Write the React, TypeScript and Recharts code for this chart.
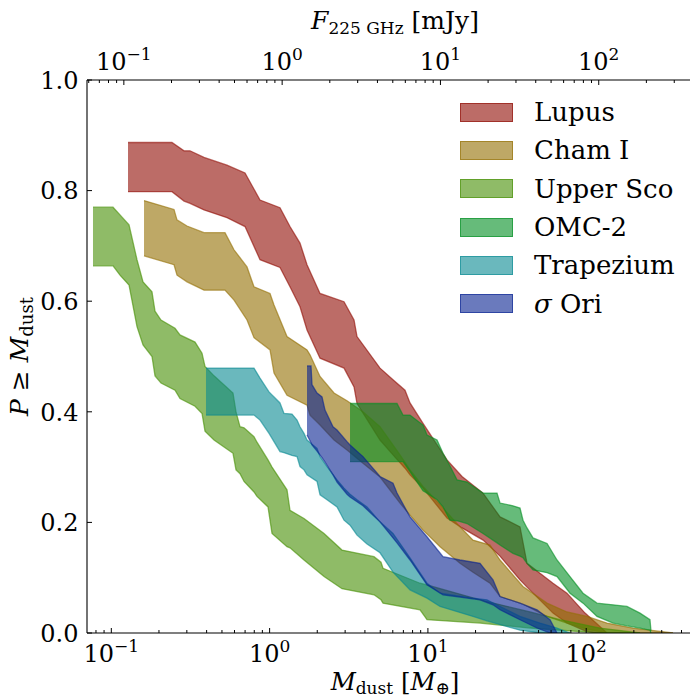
import React from 'react';
import { ComposedChart, Area, Line, XAxis, YAxis, Legend } from 'recharts';

const FONT = '"DejaVu Serif", serif';

// ---------------- data ----------------
const seriesNames = ['Lupus', 'Cham I', 'Upper Sco', 'OMC-2', 'Trapezium', 'σ Ori'];
const seriesColors = ['#8f0a02', '#936e00', '#448e02', '#008e21', '#078991', '#072191'];

const lupusM = [0.1275, 0.2416, 0.288, 0.3142, 0.3851, 0.5381, 0.6993, 0.8697, 1.163, 1.345, 1.556, 1.723, 2.082, 2.951, 3.414, 3.566, 4.982, 6.019, 7.167, 7.709, 9.314, 13.2, 16.43, 22.29, 28.55, 38.18, 42.27, 61.69, 75.6, 98.3, 113.6, 135.3];
const lupusHi = [0.887, 0.887, 0.872, 0.872, 0.86, 0.846, 0.832, 0.783, 0.769, 0.735, 0.705, 0.666, 0.614, 0.599, 0.566, 0.536, 0.479, 0.458, 0.439, 0.416, 0.379, 0.313, 0.283, 0.253, 0.21, 0.192, 0.126, 0.09, 0.072, 0.036, 0.02, 0];
const lupusLo = [0.798, 0.798, 0.781, 0.777, 0.765, 0.751, 0.735, 0.675, 0.661, 0.626, 0.59, 0.548, 0.497, 0.479, 0.445, 0.415, 0.349, 0.322, 0.298, 0.286, 0.262, 0.208, 0.19, 0.168, 0.139, 0.096, 0.083, 0.036, 0.018, 0.004, 0, 0];

const chamM = [0.1609, 0.2489, 0.26, 0.3007, 0.3851, 0.5226, 0.5957, 0.7198, 0.7966, 1.006, 1.066, 1.288, 1.723, 1.8, 2.082, 2.552, 3.083, 3.89, 4.982, 6.664, 7.709, 9.314, 11.93, 15.95, 19.27, 24.68, 28.55, 39.89, 56.56, 75.6, 101.2, 135.3, 197.6, 353.5];
const chamHi = [0.782, 0.766, 0.747, 0.736, 0.724, 0.724, 0.693, 0.662, 0.626, 0.614, 0.593, 0.536, 0.512, 0.503, 0.464, 0.434, 0.42, 0.4, 0.373, 0.322, 0.295, 0.265, 0.232, 0.192, 0.168, 0.159, 0.132, 0.084, 0.054, 0.038, 0.03, 0.018, 0.009, 0];
const chamLo = [0.682, 0.666, 0.647, 0.635, 0.62, 0.62, 0.602, 0.566, 0.534, 0.512, 0.47, 0.43, 0.412, 0.394, 0.376, 0.349, 0.331, 0.307, 0.282, 0.235, 0.213, 0.186, 0.156, 0.126, 0.11, 0.09, 0.066, 0.052, 0.03, 0.018, 0.007, 0, 0, 0];

const uscoM = [0.0766, 0.1025, 0.1135, 0.1294, 0.1453, 0.1586, 0.1807, 0.1888, 0.206, 0.2526, 0.2716, 0.3379, 0.3741, 0.3907, 0.4454, 0.5871, 0.6133, 0.6501, 0.6892, 0.7968, 0.8325, 0.977, 1.0356, 1.288, 1.345, 1.649, 2.207, 2.867, 4.566, 5.055, 5.205, 8.913, 9.87, 21.34, 44.16, 68.32, 122.2, 218.7];
const uscoHi = [0.77, 0.77, 0.756, 0.738, 0.675, 0.635, 0.617, 0.582, 0.566, 0.551, 0.539, 0.526, 0.506, 0.482, 0.465, 0.434, 0.4, 0.373, 0.371, 0.355, 0.345, 0.313, 0.3, 0.259, 0.222, 0.207, 0.18, 0.15, 0.138, 0.128, 0.117, 0.09, 0.087, 0.06, 0.038, 0.024, 0.009, 0];
const uscoLo = [0.664, 0.664, 0.647, 0.629, 0.554, 0.521, 0.5, 0.465, 0.452, 0.439, 0.424, 0.41, 0.397, 0.365, 0.349, 0.325, 0.295, 0.288, 0.274, 0.255, 0.247, 0.228, 0.18, 0.156, 0.154, 0.132, 0.102, 0.08, 0.069, 0.06, 0.054, 0.042, 0.024, 0.018, 0.009, 0.005, 0, 0];

const omcM = [3.221, 6.379, 6.961, 7.708, 9.314, 9.87, 11.42, 12.46, 13.79, 15.27, 17.66, 22.29, 27.33, 28.55, 34.48, 38.18, 39.89, 42.27, 46.13, 56.56, 65.4, 79.0, 95.5, 117.0, 147.7, 181.0, 218.7, 252.9, 256.6];
const omcHi = [0.415, 0.415, 0.394, 0.394, 0.376, 0.358, 0.349, 0.325, 0.302, 0.277, 0.273, 0.253, 0.253, 0.235, 0.23, 0.226, 0.204, 0.19, 0.172, 0.162, 0.132, 0.102, 0.072, 0.054, 0.051, 0.048, 0.036, 0.024, 0.004];
const omcLo = [0.31, 0.31, 0.31, 0.292, 0.257, 0.253, 0.241, 0.228, 0.204, 0.203, 0.198, 0.18, 0.163, 0.159, 0.144, 0.139, 0.136, 0.126, 0.114, 0.109, 0.102, 0.072, 0.054, 0.03, 0.018, 0.013, 0.009, 0.005, 0];

const trapM = [0.3964, 0.7968, 0.8697, 0.9913, 1.163, 1.233, 1.385, 1.49, 1.556, 1.649, 1.723, 1.993, 2.082, 2.305, 2.666, 2.951, 3.221, 3.566, 4.124, 4.982, 6.019, 7.708, 9.87, 11.93, 19.27, 23.62, 38.18, 51.07, 65.4, 79.0];
const trapHi = [0.479, 0.479, 0.461, 0.436, 0.416, 0.397, 0.396, 0.385, 0.373, 0.361, 0.349, 0.334, 0.319, 0.301, 0.277, 0.262, 0.251, 0.241, 0.228, 0.201, 0.18, 0.136, 0.09, 0.072, 0.063, 0.06, 0.03, 0.018, 0.009, 0];
const trapLo = [0.394, 0.394, 0.385, 0.361, 0.328, 0.326, 0.321, 0.319, 0.301, 0.295, 0.286, 0.274, 0.25, 0.241, 0.228, 0.204, 0.195, 0.177, 0.161, 0.145, 0.11, 0.078, 0.063, 0.048, 0.03, 0.022, 0.005, 0, 0, 0];

const sigM = [1.723, 1.826, 1.853, 1.993, 2.143, 2.239, 2.515, 2.666, 3.083, 3.221, 3.89, 4.982, 6.019, 6.379, 7.708, 9.87, 12.46, 15.95, 21.34, 25.78, 28.55, 38.18, 48.9, 59.07, 65.4];
const sigHi = [0.483, 0.483, 0.449, 0.434, 0.427, 0.403, 0.373, 0.367, 0.346, 0.34, 0.319, 0.283, 0.271, 0.253, 0.21, 0.174, 0.138, 0.132, 0.126, 0.096, 0.066, 0.054, 0.042, 0.024, 0];
const sigLo = [0.358, 0.344, 0.34, 0.329, 0.317, 0.309, 0.286, 0.273, 0.251, 0.246, 0.23, 0.201, 0.172, 0.163, 0.132, 0.087, 0.069, 0.065, 0.06, 0.051, 0.042, 0.024, 0.009, 0, 0];

// axis ticks
const bottomTicks = [0.08, 0.09, 0.1, 0.2, 0.3, 0.4, 0.5, 0.6, 0.7, 0.8, 0.9, 1, 2, 3, 4, 5, 6, 7, 8, 9, 10, 20, 30, 40, 50, 60, 70, 80, 90, 100, 200, 300, 400, 500];
const topTicks = [0.06, 0.07, 0.08, 0.09, 0.1, 0.2, 0.3, 0.4, 0.5, 0.6, 0.7, 0.8, 0.9, 1, 2, 3, 4, 5, 6, 7, 8, 9, 10, 20, 30, 40, 50, 60, 70, 80, 90, 100, 200, 300, 400];
const yTicks = [0, 0.2, 0.4, 0.6, 0.8, 1.0];

const X_DOMAIN: [number, number] = [0.07021, 546.8];
const FLUX_RATIO = 1.2; // M_dust / F_225GHz
const TOP_DOMAIN: [number, number] = [X_DOMAIN[0] / FLUX_RATIO, X_DOMAIN[1] / FLUX_RATIO];

const build = (m: number[], lo: number[], hi: number[]) =>
  m.map((v, i) => ({ m: v, band: [lo[i], hi[i]] }));

const seriesData = [
  build(lupusM, lupusLo, lupusHi),
  build(chamM, chamLo, chamHi),
  build(uscoM, uscoLo, uscoHi),
  build(omcM, omcLo, omcHi),
  build(trapM, trapLo, trapHi),
  build(sigM, sigLo, sigHi),
];

const rgba = (hex: string, a: number) => {
  const r = parseInt(hex.slice(1, 3), 16);
  const g = parseInt(hex.slice(3, 5), 16);
  const b = parseInt(hex.slice(5, 7), 16);
  return `rgba(${r},${g},${b},${a})`;
};

// ---------------- ticks ----------------
const LogTick = (props: any) => {
  const { x, y, payload, side } = props;
  const v = payload.value;
  const lg = Math.log10(v);
  const major = Math.abs(lg - Math.round(lg)) < 1e-6;
  const exp = Math.round(lg);
  const len = major ? 5 : 3;
  const dir = side === 'bottom' ? -1 : 1;
  return (
    <g>
      <line x1={x} y1={y} x2={x} y2={y + dir * len} stroke="#000" strokeWidth={1} />
      {major && (
        <text
          x={x}
          y={side === 'bottom' ? y + 29 : y - 10}
          textAnchor="middle"
          fontFamily={FONT}
          fontSize={24}
          fill="#000"
        >
          10
          <tspan fontSize={17} dy={-10}>
            {exp < 0 ? '\u2212' + -exp : String(exp)}
          </tspan>
        </text>
      )}
    </g>
  );
};

const YTick = (props: any) => {
  const { x, y, payload } = props;
  return (
    <g>
      <line x1={x} y1={y} x2={x + 5} y2={y} stroke="#000" strokeWidth={1} />
      <text x={x - 8.5} y={y + 8.8} textAnchor="end" fontFamily={FONT} fontSize={24} fill="#000">
        {Number(payload.value).toFixed(1)}
      </text>
    </g>
  );
};

// ---------------- axis titles ----------------
const BottomTitle = (props: any) => {
  const vb = props.viewBox || { x: 87, y: 633, width: 616, height: 60 };
  return (
    <text x={vb.x + vb.width / 2} y={vb.y + 57} textAnchor="middle" fontFamily={FONT} fontSize={24.5} fill="#000">
      <tspan fontStyle="italic">M</tspan>
      <tspan fontSize={17} dy={4}>dust</tspan>
      <tspan dy={-4}> [</tspan>
      <tspan fontStyle="italic">M</tspan>
      <tspan fontSize={17} dy={4}>⊕</tspan>
      <tspan dy={-4}>]</tspan>
    </text>
  );
};

const TopTitle = (props: any) => {
  const vb = props.viewBox || { x: 87, y: 20, width: 616, height: 60 };
  return (
    <text x={vb.x + vb.width / 2} y={vb.y + 9} textAnchor="middle" fontFamily={FONT} fontSize={25} fill="#000">
      <tspan fontStyle="italic">F</tspan>
      <tspan fontSize={17} dy={5}>225 GHz</tspan>
      <tspan dy={-5}> [mJy]</tspan>
    </text>
  );
};

const LeftTitle = (props: any) => {
  const vb = props.viewBox || { x: 27, y: 80, width: 60, height: 553 };
  const cx = 28;
  const cy = vb.y + vb.height / 2;
  return (
    <text
      x={cx}
      y={cy}
      transform={`rotate(-90, ${cx}, ${cy})`}
      textAnchor="middle"
      fontFamily={FONT}
      fontSize={25}
      fill="#000"
    >
      <tspan fontStyle="italic">P</tspan>
      <tspan> ≥ </tspan>
      <tspan fontStyle="italic">M</tspan>
      <tspan fontSize={18} dy={5}>dust</tspan>
    </text>
  );
};

// ---------------- legend ----------------
const LegendBox = () => (
  <div style={{ fontFamily: FONT, fontSize: 26, color: '#000' }}>
    {seriesNames.map((n, i) => (
      <div key={n} style={{ display: 'flex', alignItems: 'center', height: 38.3 }}>
        <div
          style={{
            width: 53,
            height: 19,
            boxSizing: 'border-box',
            background: rgba(seriesColors[i], 0.6),
            border: `1.5px solid ${rgba(seriesColors[i], 0.6)}`,
          }}
        />
        <span style={{ marginLeft: 21, lineHeight: '26px', whiteSpace: 'nowrap' }}>
          {n.startsWith('σ') ? (
            <>
              <i>σ</i>
              {n.slice(1)}
            </>
          ) : (
            n
          )}
        </span>
      </div>
    ))}
  </div>
);

export default function App() {
  return (
    <div style={{ position: 'absolute', left: 0, top: 0, width: 690, height: 699, overflow: 'hidden', background: '#fff' }}>
      <ComposedChart width={704} height={699} margin={{ top: 20, right: 1, bottom: 6, left: 27 }}>
        <XAxis
          xAxisId="b"
          dataKey="m"
          type="number"
          scale="log"
          domain={X_DOMAIN}
          allowDataOverflow
          ticks={bottomTicks}
          interval={0}
          tick={<LogTick side="bottom" />}
          tickLine={false}
          tickSize={0}
          tickMargin={0}
          height={60}
          axisLine={{ stroke: '#000', strokeWidth: 1.1 }}
          label={<BottomTitle />}
        />
        <XAxis
          xAxisId="t"
          orientation="top"
          dataKey={(d: any) => d.m / FLUX_RATIO}
          type="number"
          scale="log"
          domain={TOP_DOMAIN}
          allowDataOverflow
          ticks={topTicks}
          interval={0}
          tick={<LogTick side="top" />}
          tickLine={false}
          tickSize={0}
          tickMargin={0}
          height={60}
          axisLine={{ stroke: '#000', strokeWidth: 1.1 }}
          label={<TopTitle />}
        />
        <YAxis
          yAxisId="y"
          type="number"
          domain={[0, 1]}
          allowDataOverflow
          ticks={yTicks}
          interval={0}
          tick={<YTick />}
          tickLine={false}
          tickSize={0}
          tickMargin={0}
          width={60}
          axisLine={{ stroke: '#000', strokeWidth: 1.1 }}
          label={<LeftTitle />}
        />
        {seriesData.map((d, i) => (
          <Area
            key={seriesNames[i]}
            name={seriesNames[i]}
            xAxisId="b"
            yAxisId="y"
            data={d}
            dataKey="band"
            type="linear"
            fill={seriesColors[i]}
            fillOpacity={0.6}
            stroke={seriesColors[i]}
            strokeOpacity={0.6}
            strokeWidth={1.3}
            dot={false}
            activeDot={false}
            isAnimationActive={false}
          />
        ))}
        <Line
          xAxisId="t"
          yAxisId="y"
          data={seriesData[0]}
          dataKey={(d: any) => d.band[1]}
          stroke="none"
          dot={false}
          activeDot={false}
          legendType="none"
          isAnimationActive={false}
        />
        <Legend
          layout="horizontal"
          verticalAlign="middle"
          align="center"
          content={() => <LegendBox />}
          wrapperStyle={{ position: 'absolute', top: 93, left: 460, width: 230, height: 230 }}
        />
      </ComposedChart>
    </div>
  );
}
